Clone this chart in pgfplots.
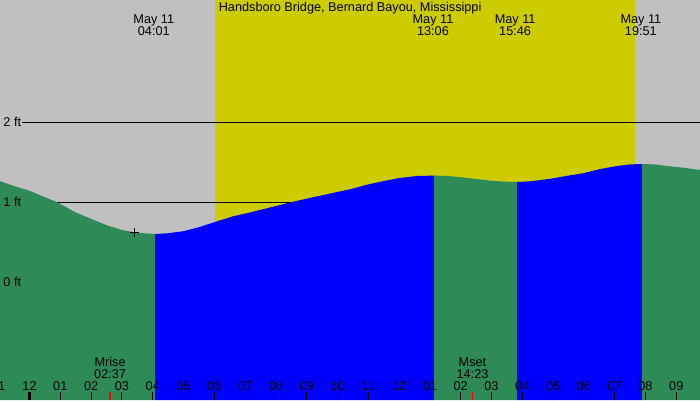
\documentclass[border=0pt]{standalone}
\usepackage{fontspec}
\setmainfont{Liberation Sans}
\usepackage{pgfplots}
\pgfplotsset{compat=1.18}
\definecolor{sky}{HTML}{C0C0C0}
\definecolor{sun}{HTML}{CCCC00}
\definecolor{ebb}{HTML}{2E8B57}
\definecolor{flood}{HTML}{0000FF}

\begin{document}
\fontsize{12.7pt}{14pt}\selectfont
\begin{tikzpicture}
\useasboundingbox (0,0) rectangle (700pt,400pt);
\clip (0,0) rectangle (700pt,400pt);
\begin{axis}[
    at={(0,0)}, anchor=south west, scale only axis,
    width=700pt, height=400pt,
    xmin=-0.958, xmax=21.77, ymin=-1.475, ymax=3.525,
    axis background/.style={fill=sky},
    axis x line*=bottom, axis y line=none,
    x axis line style={draw=none},
    axis on top,
    xtick={0,...,21},
    xticklabels={12,01,02,03,04,05,06,07,08,09,10,11,12,01,02,03,04,05,06,07,08,09},
    tick align=inside, major tick length=8pt,
    xtick style={black, line width=1pt},
    xticklabel style={anchor=base, yshift=10pt, text=black},
]
% daylight
\addplot[fill=sun, draw=none] coordinates {(6.02,-1.475) (6.02,3.525) (19.66,3.525) (19.66,-1.475)} -- cycle;
% datum lines
\addplot[black, line width=1pt] coordinates {(-0.24,2) (21.77,2)};
\addplot[black, line width=1pt] coordinates {(-0.24,1) (21.77,1)};
% falling to 04:01 low
\addplot[fill=ebb, draw=none] coordinates {(-0.96,-1.475) (-0.96,1.26) (-0.5,1.2) (0,1.14) (0.5,1.06) (0.88,1.0) (1.5,0.87) (2.0,0.79) (2.5,0.71) (3.0,0.65) (3.5,0.615) (4.08,0.6) (4.08,-1.475)} -- cycle;
% rising to 13:06 high
\addplot[fill=flood, draw=none] coordinates {(4.08,-1.475) (4.08,0.60) (4.5,0.61) (5.0,0.635) (5.5,0.685) (6.1,0.76) (6.6,0.82) (7.16,0.87) (7.8,0.93) (8.52,1.0) (9.33,1.07) (10.41,1.16) (11.0,1.22) (11.48,1.26) (12.0,1.30) (12.58,1.325) (13.13,1.33) (13.13,-1.475)} -- cycle;
% falling to 15:46 low
\addplot[fill=ebb, draw=none] coordinates {(13.13,-1.475) (13.13,1.33) (13.6,1.325) (14.0,1.31) (14.47,1.29) (15.0,1.265) (15.4,1.255) (15.83,1.25) (15.83,-1.475)} -- cycle;
% rising to 19:51 high
\addplot[fill=flood, draw=none] coordinates {(15.83,-1.475) (15.83,1.25) (16.3,1.26) (16.9,1.29) (17.5,1.33) (17.98,1.36) (18.5,1.41) (19.07,1.45) (19.5,1.47) (19.88,1.475) (19.88,-1.475)} -- cycle;
% falling after
\addplot[fill=ebb, draw=none] coordinates {(19.88,-1.475) (19.88,1.475) (20.3,1.47) (20.7,1.45) (21.2,1.43) (21.77,1.40) (21.77,-1.475)} -- cycle;
% current time mark
\addplot[only marks, mark=+, mark size=4.5pt, black, line width=1pt] coordinates {(3.403,0.621)};
% midnight and moon ticks
\addplot[black, line width=2.5pt] coordinates {(0,-1.475) (0,-1.375)};
\addplot[red, line width=1.5pt] coordinates {(2.617,-1.475) (2.617,-1.375)};
\addplot[red, line width=1.5pt] coordinates {(14.383,-1.475) (14.383,-1.375)};

\node[anchor=base] at (axis cs:-1,-1.35) {11};
\node[anchor=west] at (axis cs:-0.99,2) {2 ft};
\node[anchor=west] at (axis cs:-0.99,1) {1 ft};
\node[anchor=west] at (axis cs:-0.99,0) {0 ft};

\node[anchor=base] at (axis cs:10.41,3.3875) {Handsboro Bridge, Bernard Bayou, Mississippi};
\node[anchor=base] at (axis cs:4.036,3.2375) {May 11};
\node[anchor=base] at (axis cs:4.036,3.0875) {04:01};
\node[anchor=base] at (axis cs:13.1,3.2375) {May 11};
\node[anchor=base] at (axis cs:13.1,3.0875) {13:06};
\node[anchor=base] at (axis cs:15.767,3.2375) {May 11};
\node[anchor=base] at (axis cs:15.767,3.0875) {15:46};
\node[anchor=base] at (axis cs:19.85,3.2375) {May 11};
\node[anchor=base] at (axis cs:19.85,3.0875) {19:51};

\node[anchor=base] at (axis cs:2.617,-1.056) {Mrise};
\node[anchor=base] at (axis cs:2.617,-1.2) {02:37};
\node[anchor=base] at (axis cs:14.383,-1.056) {Mset};
\node[anchor=base] at (axis cs:14.383,-1.2) {14:23};
\end{axis}
\end{tikzpicture}
\end{document}
